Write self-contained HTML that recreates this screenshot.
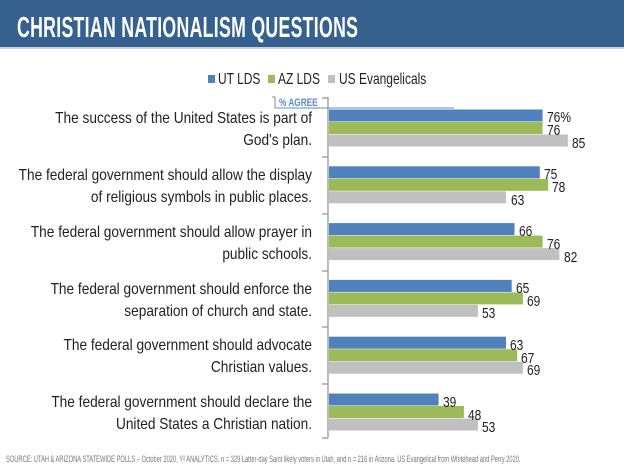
<!DOCTYPE html>
<html><head><meta charset="utf-8"><style>
html,body{margin:0;padding:0;background:#fff;}
svg{display:block;font-family:"Liberation Sans",sans-serif;}
</style></head><body>
<svg width="624" height="468" viewBox="0 0 624 468" xmlns="http://www.w3.org/2000/svg">
<rect x="0" y="0" width="624" height="47" fill="#36618f"/>
<rect x="0" y="47" width="624" height="2" fill="#c9d3de"/>
<text transform="translate(17,37) scale(0.61,1)" font-size="29" font-weight="bold" fill="#fff" letter-spacing="0.5">CHRISTIAN NATIONALISM QUESTIONS</text>
<rect x="208" y="75" width="7" height="8" fill="#4f81bd"/>
<text transform="translate(218,84) scale(0.75,1)" font-size="16" fill="#222">UT LDS</text>
<rect x="268" y="75" width="7" height="8" fill="#9bbb59"/>
<text transform="translate(278,84) scale(0.75,1)" font-size="16" fill="#222">AZ LDS</text>
<rect x="328" y="75" width="7" height="8" fill="#c0c0c0"/>
<text transform="translate(339,84) scale(0.75,1)" font-size="16" fill="#222">US Evangelicals</text>
<text transform="translate(279,106) scale(0.75,1)" font-size="11" font-weight="bold" fill="#5b8cc6">% AGREE</text>
<line x1="275" y1="108" x2="454" y2="108" stroke="#5b8cc6" stroke-width="1"/>
<path d="M272,97 H275 V108" stroke="#888" fill="none"/>
<g stroke="#999" stroke-width="1.3">
<line x1="328" y1="97" x2="328" y2="438"/>
<line x1="322" y1="98" x2="328" y2="98"/>
<line x1="322" y1="157" x2="328" y2="157"/>
<line x1="322" y1="214" x2="328" y2="214"/>
<line x1="322" y1="271" x2="328" y2="271"/>
<line x1="322" y1="327" x2="328" y2="327"/>
<line x1="322" y1="384" x2="328" y2="384"/>
<line x1="322" y1="438" x2="328" y2="438"/>
</g>
<g font-size="16" fill="#222">
<text transform="translate(312,123) scale(0.855,1)" text-anchor="end">The success of the United States is part of</text>
<text transform="translate(312,145) scale(0.855,1)" text-anchor="end">God's plan.</text>
<text transform="translate(312,180) scale(0.855,1)" text-anchor="end">The federal government should allow the display</text>
<text transform="translate(312,202) scale(0.855,1)" text-anchor="end">of religious symbols in public places.</text>
<text transform="translate(312,237) scale(0.855,1)" text-anchor="end">The federal government should allow prayer in</text>
<text transform="translate(312,259) scale(0.855,1)" text-anchor="end">public schools.</text>
<text transform="translate(312,294) scale(0.855,1)" text-anchor="end">The federal government should enforce the</text>
<text transform="translate(312,316) scale(0.855,1)" text-anchor="end">separation of church and state.</text>
<text transform="translate(312,350) scale(0.855,1)" text-anchor="end">The federal government should advocate</text>
<text transform="translate(312,372) scale(0.855,1)" text-anchor="end">Christian values.</text>
<text transform="translate(312,407) scale(0.855,1)" text-anchor="end">The federal government should declare the</text>
<text transform="translate(312,429) scale(0.855,1)" text-anchor="end">United States a Christian nation.</text>
</g>
<g>
<rect x="329" y="109.5" width="213.6" height="12" fill="#4f81bd"/>
<rect x="329" y="122" width="213.6" height="12" fill="#9bbb59"/>
<rect x="329" y="134.5" width="238.9" height="12" fill="#c0c0c0"/>
<rect x="329" y="166.3" width="210.8" height="12" fill="#4f81bd"/>
<rect x="329" y="178.8" width="219.2" height="12" fill="#9bbb59"/>
<rect x="329" y="191.3" width="177" height="12" fill="#c0c0c0"/>
<rect x="329" y="223.1" width="185.5" height="12" fill="#4f81bd"/>
<rect x="329" y="235.6" width="213.6" height="12" fill="#9bbb59"/>
<rect x="329" y="248.1" width="230.4" height="12" fill="#c0c0c0"/>
<rect x="329" y="279.9" width="182.7" height="12" fill="#4f81bd"/>
<rect x="329" y="292.4" width="193.9" height="12" fill="#9bbb59"/>
<rect x="329" y="304.9" width="148.9" height="12" fill="#c0c0c0"/>
<rect x="329" y="336.7" width="177" height="12" fill="#4f81bd"/>
<rect x="329" y="349.2" width="188.3" height="12" fill="#9bbb59"/>
<rect x="329" y="361.7" width="193.9" height="12" fill="#c0c0c0"/>
<rect x="329" y="393.5" width="109.6" height="12" fill="#4f81bd"/>
<rect x="329" y="406" width="134.9" height="12" fill="#9bbb59"/>
<rect x="329" y="418.5" width="148.9" height="12" fill="#c0c0c0"/>
</g>
<g font-size="15" fill="#222">
<text transform="translate(547,122) scale(0.8,1)">76%</text>
<text transform="translate(547,135) scale(0.8,1)">76</text>
<text transform="translate(572,148) scale(0.8,1)">85</text>
<text transform="translate(544,179) scale(0.8,1)">75</text>
<text transform="translate(552,192) scale(0.8,1)">78</text>
<text transform="translate(511,205) scale(0.8,1)">63</text>
<text transform="translate(519,236) scale(0.8,1)">66</text>
<text transform="translate(547,249) scale(0.8,1)">76</text>
<text transform="translate(564,262) scale(0.8,1)">82</text>
<text transform="translate(516,293) scale(0.8,1)">65</text>
<text transform="translate(527,306) scale(0.8,1)">69</text>
<text transform="translate(482,318) scale(0.8,1)">53</text>
<text transform="translate(510,350) scale(0.8,1)">63</text>
<text transform="translate(521,363) scale(0.8,1)">67</text>
<text transform="translate(527,375) scale(0.8,1)">69</text>
<text transform="translate(443,407) scale(0.8,1)">39</text>
<text transform="translate(468,420) scale(0.8,1)">48</text>
<text transform="translate(482,432) scale(0.8,1)">53</text>
</g>
<text transform="translate(6,462) scale(0.62,1)" font-size="9.5" fill="#777" textLength="830" lengthAdjust="spacingAndGlyphs">SOURCE: UTAH &amp; ARIZONA STATEWIDE POLLS – October 2020, Y² ANALYTICS, n = 329 Latter-day Saint likely voters in Utah, and n = 216 in Arizona. US Evangelical from Whitehead and Perry 2020.</text>
</svg>
</body></html>
